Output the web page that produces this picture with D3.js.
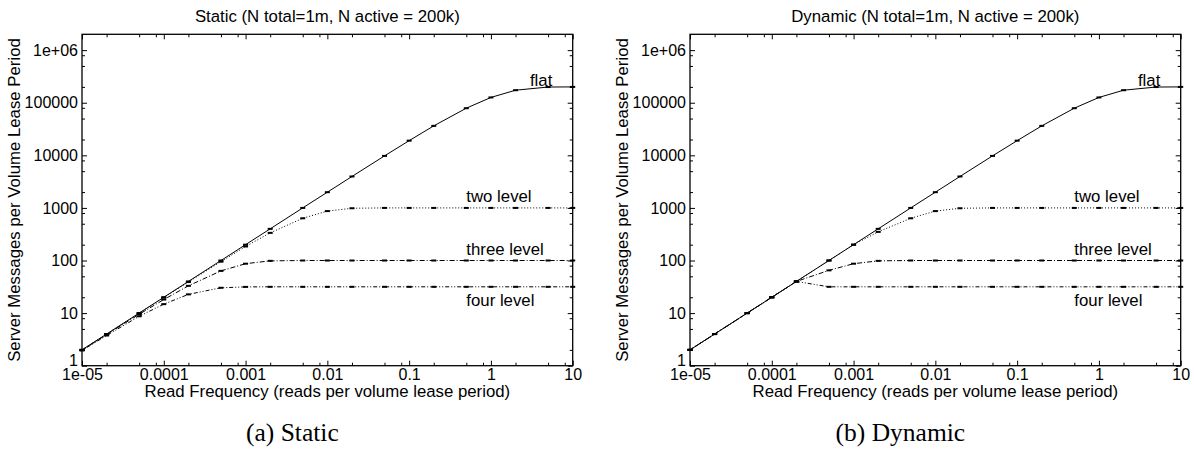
<!DOCTYPE html>
<html>
<head>
<meta charset="utf-8">
<script src="https://cdn.jsdelivr.net/npm/d3@7"></script>
<style>
    body { margin: 0; background: #fff; }
    svg text { font-family: "Liberation Sans", Arial, sans-serif; fill: #000; }
</style>
</head>
<body>
<div id="chart_div"></div>
<script>

// read frequency (reads per volume lease period), same for every curve
const read_frequency = [1e-5, 2e-5, 5e-5, 1e-4, 2e-4, 5e-4, 1e-3, 2e-3, 5e-3, 0.01, 0.02, 0.05, 0.1, 0.2, 0.5, 1, 2, 5, 10];

const flat_messages = [2, 4, 10, 20, 40, 100, 200, 400, 1000, 1990, 3960, 9750, 19000, 36300, 78700, 126000, 173000, 198700, 200000];

const static_two_level = [2, 4, 10, 19.8, 39, 95, 185, 335, 635, 870, 985, 1000, 1000, 1000, 1000, 1000, 1000, 1000, 1000];
const static_three_level = [1.98, 3.9, 9.5, 18.1, 33, 63.5, 87, 98.5, 100, 100, 100, 100, 100, 100, 100, 100, 100, 100, 100];
const static_four_level = [1.95, 3.75, 8.7, 14.8, 22.7, 30.3, 31.5, 31.6, 31.6, 31.6, 31.6, 31.6, 31.6, 31.6, 31.6, 31.6, 31.6, 31.6, 31.6];

const dynamic_two_level = [2, 4, 10, 20, 40, 100, 200, 350, 635, 870, 985, 1000, 1000, 1000, 1000, 1000, 1000, 1000, 1000];
const dynamic_three_level = [2, 4, 10, 20, 40, 65, 87, 98.5, 100, 100, 100, 100, 100, 100, 100, 100, 100, 100, 100];
const dynamic_four_level = [2, 4, 10, 20, 40, 31.6, 31.6, 31.6, 31.6, 31.6, 31.6, 31.6, 31.6, 31.6, 31.6, 31.6, 31.6, 31.6, 31.6];

const series_names = ['flat', 'two level', 'three level', 'four level'];

const x_tick_values = [1e-5, 1e-4, 1e-3, 0.01, 0.1, 1, 10];
const x_tick_labels = ['1e-05', '0.0001', '0.001', '0.01', '0.1', '1', '10'];
const y_tick_values = [1, 10, 100, 1000, 10000, 100000, 1e6];
const y_tick_labels = ['1', '10', '100', '1000', '10000', '100000', '1e+06'];

const panels = [{
    left: 82,
    title: 'Static (N total=1m, N active = 200k)',
    caption: '(a) Static',
    series: [flat_messages, static_two_level, static_three_level, static_four_level]
}, {
    left: 690,
    title: 'Dynamic (N total=1m, N active = 200k)',
    caption: '(b) Dynamic',
    series: [flat_messages, dynamic_two_level, dynamic_three_level, dynamic_four_level]
}];

// where each curve name sits, in data units (x, y)
const label_anchor = [[3, 270000], [0.5, 1680], [0.5, 166], [0.5, 17.8]];
const dash_styles = [null, '1,2', '5,2,1,2', '1,2,1,2,4,2'];

const plot_width = 490.7;
const plot_top = 34.3;
const plot_bottom = 365.7;
const label_font = '16.8px';

let svg = d3.select('#chart_div').append('svg')
    .attr('width', 1194)
    .attr('height', 451);

// minor log ticks at 2, 5 and 8 of every decade
function minor_ticks (domain) {
    let ticks = [];
    for (let e = Math.floor(Math.log10(domain[0])); e <= Math.ceil(Math.log10(domain[1])); e++) {
        [2, 5, 8].forEach(function (m) {
            let v = m * Math.pow(10, e);
            if (v > domain[0] && v < domain[1]) ticks.push(v);
        });
    }
    return ticks;
}

function draw_panel (panel) {
    let x = d3.scaleLog().domain([1e-5, 10]).range([panel.left, panel.left + plot_width]);
    let y = d3.scaleLog().domain([1, 2e6]).range([plot_bottom, plot_top]);
    let g = svg.append('g');

    // axes, all ticks point into the plot
    g.append('g').attr('transform', 'translate(0,' + plot_bottom + ')')
        .call(d3.axisBottom(x).tickValues(x_tick_values).tickFormat((d, i) => x_tick_labels[i]).tickSize(-5).tickPadding(3));
    g.append('g').attr('transform', 'translate(0,' + plot_bottom + ')')
        .call(d3.axisBottom(x).tickValues(minor_ticks(x.domain())).tickFormat('').tickSize(-3));
    g.append('g').attr('transform', 'translate(0,' + plot_top + ')')
        .call(d3.axisTop(x).tickValues(x_tick_values).tickFormat('').tickSize(-5));
    g.append('g').attr('transform', 'translate(0,' + plot_top + ')')
        .call(d3.axisTop(x).tickValues(minor_ticks(x.domain())).tickFormat('').tickSize(-3));

    let y_axis = g.append('g').attr('transform', 'translate(' + panel.left + ',0)')
        .call(d3.axisLeft(y).tickValues(y_tick_values).tickFormat((d, i) => y_tick_labels[i]).tickSize(-5).tickPadding(4));
    g.append('g').attr('transform', 'translate(' + panel.left + ',0)')
        .call(d3.axisLeft(y).tickValues(minor_ticks(y.domain())).tickFormat('').tickSize(-3));
    g.append('g').attr('transform', 'translate(' + (panel.left + plot_width) + ',0)')
        .call(d3.axisRight(y).tickValues(y_tick_values).tickFormat('').tickSize(-5));
    g.append('g').attr('transform', 'translate(' + (panel.left + plot_width) + ',0)')
        .call(d3.axisRight(y).tickValues(minor_ticks(y.domain())).tickFormat('').tickSize(-3));

    g.selectAll('.domain').remove();
    g.selectAll('.tick line').attr('stroke', '#000');
    g.selectAll('.tick text').style('font-size', '16px').attr('fill', '#000');
    // the "1" sits a little above its tick, clear of "1e-05"
    y_axis.selectAll('.tick text').filter(d => d === 1).attr('y', -5);

    g.append('rect')
        .attr('x', panel.left)
        .attr('y', plot_top)
        .attr('width', plot_width)
        .attr('height', plot_bottom - plot_top)
        .attr('fill', 'none')
        .attr('stroke', '#000')
        .attr('stroke-width', 1.3);

    let line = d3.line()
        .x((d, i) => x(read_frequency[i]))
        .y(d => y(d));

    panel.series.forEach(function (values, s) {
        g.append('path')
            .attr('d', line(values))
            .attr('fill', 'none')
            .attr('stroke', '#000')
            .attr('stroke-width', 1)
            .attr('stroke-dasharray', dash_styles[s]);

        g.selectAll('.pt' + s).data(values).enter().append('rect')
            .attr('x', (d, i) => x(read_frequency[i]) - 2.5)
            .attr('y', d => y(d) - 1)
            .attr('width', 5)
            .attr('height', 2)
            .attr('fill', '#000');

        g.append('text')
            .attr('x', x(label_anchor[s][0]))
            .attr('y', y(label_anchor[s][1]))
            .attr('dy', '0.35em')
            .style('font-size', label_font)
            .text(series_names[s]);
    });

    let mid_x = panel.left + plot_width / 2;

    g.append('text')
        .attr('x', mid_x)
        .attr('y', 22)
        .style('text-anchor', 'middle')
        .style('font-size', label_font)
        .text(panel.title);

    g.append('text')
        .attr('x', mid_x)
        .attr('y', 396.5)
        .style('text-anchor', 'middle')
        .style('font-size', label_font)
        .text('Read Frequency (reads per volume lease period)');

    g.append('text')
        .attr('transform', 'translate(' + (panel.left - 68) + ',' + ((plot_top + plot_bottom) / 2) + ') rotate(-90)')
        .attr('dy', '0.35em')
        .style('text-anchor', 'middle')
        .style('font-size', label_font)
        .text('Server Messages per Volume Lease Period');

    g.append('text')
        .attr('x', mid_x - 35)
        .attr('y', 441)
        .style('text-anchor', 'middle')
        .style('font-family', '"Liberation Serif", "Times New Roman", serif')
        .style('font-size', '25.5px')
        .text(panel.caption);
}

panels.forEach(draw_panel);

</script>
</body>
</html>
